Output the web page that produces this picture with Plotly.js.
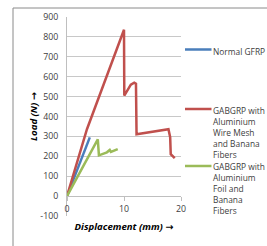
<!DOCTYPE html>
<html>
<head>
<meta charset="utf-8">
<script src="https://cdn.plot.ly/plotly-3.0.1.min.js"></script>
<style>
html,body{margin:0;padding:0;background:#fff;}
#chart{width:267px;height:246px;}
</style>
</head>
<body>
<div id="chart"></div>
<script>
// ---- data ----
const seriesNames = [
  "Normal GFRP",
  "GABGRP with<br>Aluminium<br>Wire Mesh<br>and Banana<br>Fibers",
  "GABGRP with<br>Aluminium<br>Foil and<br>Banana<br>Fibers"
];
const normalX = [0, 1, 2, 3, 4];
const normalY = [0, 72, 148, 222, 295];

const wireMeshX = [0, 1, 2, 2.5, 3, 3.5, 10, 10.05, 11.2, 11.8, 12.1, 12.2, 17.8, 18.1, 18.2, 18.9];
const wireMeshY = [0, 95, 195, 240, 290, 336, 836, 505, 560, 570, 565, 311, 336, 296, 211, 191];

const foilX = [0, 5.4, 5.6, 7.0, 7.5, 7.7, 8.9];
const foilY = [0, 285, 205, 220, 232, 222, 236];

const xTickVals = [0, 10, 20];
const yTickVals = [-100, 0, 100, 200, 300, 400, 500, 600, 700, 800, 900];
const yTickText = ["-100", "0", "100", "200", "300", "400", "500", "600", "700", "800", "900"];

const xTitle = "Displacement (mm)";
const yTitle = "Load (N)";

const colors = ["#4a7ebb", "#c0504d", "#9bbb59"];
const FONT = "Open Sans, Liberation Sans, sans-serif";
const ARROW = ' <span style="font-family:DejaVu Sans">→</span>';

const seriesX = [normalX, wireMeshX, foilX];
const seriesY = [normalY, wireMeshY, foilY];

const traces = seriesNames.map((name, i) => ({
  type: "scatter", mode: "lines",
  x: seriesX[i], y: seriesY[i], name: name.replace(/<br>/g, " "),
  line: {color: colors[i], width: 2.5},
  hoverinfo: "skip", showlegend: false
}));

// legend (placed to the right of the plot, as in the reference)
const legendTop = [0.864, 0.570, 0.284];      // paper y of text block tops
const legendLineY = [0.8367, 0.5377, 0.2513]; // paper y of sample lines
const legendAnnotations = seriesNames.map((name, i) => ({
  xref: "paper", yref: "paper", x: 1.263, y: legendTop[i],
  xanchor: "left", yanchor: "top", align: "left", showarrow: false,
  text: name, font: {family: FONT, size: 8.4, color: "#404040"}
}));
const legendShapes = seriesNames.map((name, i) => ({
  type: "line", xref: "paper", yref: "paper",
  x0: 1.035, x1: 1.2675, y0: legendLineY[i], y1: legendLineY[i],
  line: {color: colors[i], width: 2.5}
}));

const layout = {
  width: 267, height: 246,
  margin: {l: 67, r: 86, t: 17, b: 30, pad: 0, autoexpand: false},
  paper_bgcolor: "#ffffff", plot_bgcolor: "rgba(0,0,0,0)",
  font: {family: FONT, size: 8.8, color: "#404040"},
  showlegend: false,
  xaxis: {
    range: [0, 20], tickmode: "array", tickvals: xTickVals,
    anchor: "free", position: 0.1,
    showgrid: false, zeroline: false,
    showline: true, linecolor: "#bfbfbf", linewidth: 1,
    ticks: "outside", ticklen: 4, tickcolor: "#bfbfbf",
    tickfont: {family: FONT, size: 8.8, color: "#404040"},
    title: {text: "<b><i>" + xTitle + ARROW + "</i></b>", standoff: 9,
            font: {family: FONT, size: 9.6, color: "#000000"}},
    fixedrange: true
  },
  yaxis: {
    range: [-100, 900], tickmode: "array", tickvals: yTickVals, ticktext: yTickText,
    showgrid: true, gridcolor: "#c8c8c8", gridwidth: 1,
    zeroline: false, showline: true, linecolor: "#bfbfbf", linewidth: 1,
    ticks: "", ticklabelstandoff: 6,
    tickfont: {family: FONT, size: 8.8, color: "#404040"},
    title: {text: "<b><i>" + yTitle + ARROW + "</i></b>", standoff: 0,
            font: {family: FONT, size: 9.6, color: "#000000"}},
    fixedrange: true
  },
  annotations: legendAnnotations,
  shapes: [{
    type: "rect", xref: "paper", yref: "paper", layer: "below",
    x0: (13 - 67) / 114, x1: 2, y0: -1, y1: (216 - 8) / 199,
    line: {color: "#8a8a8a", width: 1}, fillcolor: "rgba(0,0,0,0)"
  }].concat(legendShapes)
};

Plotly.newPlot("chart", traces, layout, {staticPlot: true, displayModeBar: false});
</script>
</body>
</html>
